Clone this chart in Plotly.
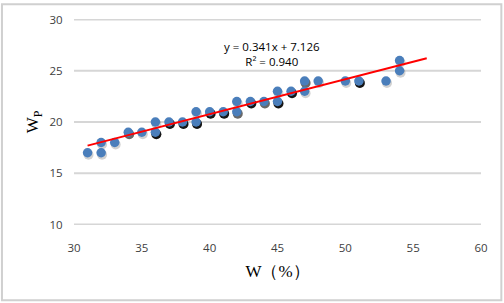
import plotly.graph_objects as go

# Data
w_values = [31, 32, 32, 33, 34, 35, 36, 36, 37, 38, 39, 39, 40, 41, 42, 42, 43, 44, 45, 45, 46, 47, 47, 48, 50, 51, 53, 54, 54]
wp_values = [17, 17, 18, 18, 19, 19, 19, 20, 20, 20, 20, 21, 21, 21, 21, 22, 22, 22, 22, 23, 23, 23, 24, 24, 24, 24, 24, 25, 26]
# number of overlapping observations at each point (drives shadow darkness)
counts = [1, 1, 1, 1, 2, 1, 3, 1, 3, 3, 3, 1, 3, 3, 2, 1, 3, 2, 3, 1, 3, 1, 2, 1, 1, 3, 1, 1, 1]

slope = 0.341
intercept = 7.126
r2 = 0.940
trend_x = [31, 56]
trend_y = [slope * x + intercept for x in trend_x]

x_ticks = [30, 35, 40, 45, 50, 55, 60]
y_ticks = [10, 15, 20, 25, 30]

# shadow offsets in data units (~1px right, ~2px down)
dx, dy = 0.07, -0.2

fig = go.Figure()

# soft shadow for all points
fig.add_trace(go.Scatter(
    x=[x + dx for x in w_values], y=[y + dy for y in wp_values], mode="markers",
    marker=dict(size=10, color="rgba(0,0,0,0.18)", line=dict(width=0)),
    hoverinfo="skip", showlegend=False))

# darker shadows for repeated observations
sx = [x + dx for x, c in zip(w_values, counts) if c > 1]
sy = [y + dy for y, c in zip(wp_values, counts) if c > 1]
sc = ["rgba(0,0,0,%.2f)" % (0.5 if c == 2 else 0.9) for c in counts if c > 1]
fig.add_trace(go.Scatter(
    x=sx, y=sy, mode="markers",
    marker=dict(size=10, color=sc, line=dict(width=0)),
    hoverinfo="skip", showlegend=False))

fig.add_trace(go.Scatter(
    x=w_values, y=wp_values, mode="markers",
    marker=dict(size=9.5, color="#4a7ebb", line=dict(width=0)),
    showlegend=False))

fig.add_trace(go.Scatter(
    x=trend_x, y=trend_y, mode="lines",
    line=dict(color="#ff0000", width=2), showlegend=False))

fig.add_annotation(
    x=44.6, y=26.65, xref="x", yref="y",
    text="y = 0.341x + 7.126<br>R² = %.3f" % r2,
    showarrow=False, align="center",
    font=dict(family="Open Sans, Liberation Sans, sans-serif", size=11.5, color="#000000"))

# horizontal gridlines at every y tick (including the range ends)
grid_shapes = [dict(type="line", xref="paper", yref="y", x0=0, x1=1, y0=t, y1=t,
                    line=dict(color="#d6d6d6", width=2), layer="below") for t in y_ticks]
border = dict(type="rect", xref="paper", yref="paper",
              x0=-0.177, x1=1.05, y0=-0.365, y1=1.072,
              line=dict(color="#d0d0d0", width=2), layer="below")

fig.update_layout(
    width=504, height=303,
    margin=dict(l=74, r=23, t=17, b=78),
    paper_bgcolor="white", plot_bgcolor="white",
    font=dict(family="Open Sans, Liberation Sans, sans-serif", size=11, color="#404040"),
    shapes=grid_shapes + [border],
)

fig.update_xaxes(
    range=[30, 60], tickvals=x_ticks, showgrid=False, zeroline=False,
    showline=False, ticks="outside", ticklen=12, tickcolor="rgba(0,0,0,0)",
    tickfont=dict(size=11.5, color="#404040"),
    title=dict(text="W（%）", font=dict(family="Liberation Serif, serif", size=17, color="#000000"), standoff=11))

fig.update_yaxes(
    range=[9.95, 30.05], tickvals=y_ticks, showgrid=False,
    zeroline=False, showline=False, ticks="outside", ticklen=8, tickcolor="rgba(0,0,0,0)",
    tickfont=dict(size=11.5, color="#404040"),
    title=dict(text="W<sub>P</sub>", font=dict(family="Liberation Serif, serif", size=17, color="#000000"), standoff=6))

# remove the browser's default 8px page margin so the figure sits at the window's corner
fig.write_html("out.html", config={"displayModeBar": False},
               post_script="document.body.style.margin='0';")
